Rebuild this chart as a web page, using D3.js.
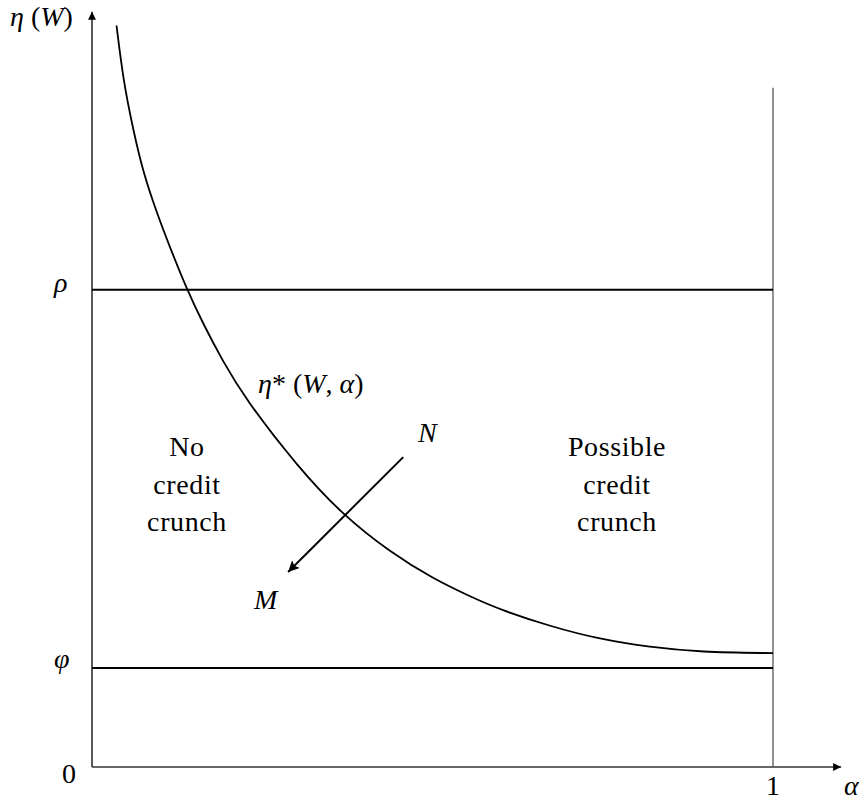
<!DOCTYPE html>
<html>
<head>
<meta charset="utf-8">
<script src="https://cdn.jsdelivr.net/npm/d3@7"></script>
</head>
<body style="margin:0">
<svg id="chart" width="864" height="802"></svg>
<script>
// curve eta*(W, alpha)
var alphaVals = [0.036, 0.046, 0.061, 0.075, 0.095, 0.115, 0.139, 0.163, 0.192, 0.225,
                 0.301, 0.369, 0.438, 0.501, 0.559, 0.599, 0.673, 0.746, 0.819, 0.893, 1.0];
var etaVals   = [7.49, 6.93, 6.42, 6.01, 5.60, 5.24, 4.83, 4.48, 4.10, 3.72,
                 3.04, 2.54, 2.17, 1.90, 1.71, 1.59, 1.42, 1.29, 1.21, 1.16, 1.15];

var rho = 4.82;
var phi = 1.0;
var etaTop = 7.63;      // end of the vertical axis
var alphaEnd = 1.1;     // end of the horizontal axis
var boundTop = 6.86;    // top of the alpha = 1 line

// shift N -> M
var shiftFrom = {alpha: 0.457, eta: 3.13};
var shiftTo = {alpha: 0.288, eta: 1.97};

var leftLines = ["No", "credit", "crunch"];
var rightLines = ["Possible", "credit", "crunch"];
var lineY = [456, 494, 531];

var svg = d3.select("#chart");

var x = d3.scaleLinear().domain([0, 1]).range([92, 773]);
var y = d3.scaleLinear().domain([0, phi]).range([767, 668]);

var labels = [
    {x: 10, y: 26, parts: [["\u03B7", 1], [" (", 0], ["W", 1], [")", 0]]},
    {x: 54, y: 292, parts: [["\u03C1", 1]]},
    {x: 54, y: 668, parts: [["\u03C6", 1]]},
    {x: 62, y: 783, parts: [["0", 0]]},
    {x: x(1) - 7, y: 795, parts: [["1", 0]]},
    {x: 844, y: 795, parts: [["\u03B1", 1]]},
    {x: 258, y: 393, parts: [["\u03B7", 1], ["*", 0], [" (", 0], ["W", 1], [", ", 0], ["\u03B1", 1], [")", 0]]},
    {x: 418, y: 442, parts: [["N", 1]]},
    {x: 254, y: 609, parts: [["M", 1]]}
];

// math labels
var txt = svg.selectAll("text.lab").data(labels).enter().append("text")
    .attr("class", "lab")
    .attr("x", function (d) { return d.x; })
    .attr("y", function (d) { return d.y; })
    .attr("font-size", 28)
    .attr("font-family", "Liberation Serif")
    .style("font-family", "'Liberation Serif', serif");
txt.selectAll("tspan").data(function (d) { return d.parts; }).enter().append("tspan")
    .attr("font-style", function (p) { return p[1] ? "italic" : "normal"; })
    .text(function (p) { return p[0]; });

// region names
[[leftLines, 187], [rightLines, 617]].forEach(function (blk) {
    svg.append("g").selectAll("text").data(blk[0]).enter().append("text")
        .attr("x", blk[1])
        .attr("y", function (d, i) { return lineY[i]; })
        .attr("text-anchor", "middle")
        .attr("font-size", 28)
        .attr("letter-spacing", 0.6)
        .attr("font-family", "Liberation Serif")
        .style("font-family", "'Liberation Serif', serif")
        .text(function (d) { return d; });
});

var defs = svg.append("defs");
defs.append("marker")
    .attr("id", "tip")
    .attr("viewBox", "0 0 10 10")
    .attr("refX", 10).attr("refY", 5)
    .attr("markerWidth", 12).attr("markerHeight", 8)
    .attr("markerUnits", "userSpaceOnUse")
    .attr("orient", "auto")
    .append("path").attr("d", "M0,0 L10,5 L0,10 z").attr("fill", "#000");
defs.append("marker")
    .attr("id", "tip2")
    .attr("viewBox", "0 0 10 10")
    .attr("refX", 10).attr("refY", 5)
    .attr("markerWidth", 16).attr("markerHeight", 11)
    .attr("markerUnits", "userSpaceOnUse")
    .attr("orient", "auto")
    .append("path").attr("d", "M0,0 L10,5 L0,10 L2,5 z").attr("fill", "#000");

// axes
svg.append("line")
    .attr("x1", x(0)).attr("y1", y(0))
    .attr("x2", x(0)).attr("y2", y(etaTop))
    .attr("stroke", "#000").attr("stroke-width", 1.3)
    .attr("marker-end", "url(#tip)");
svg.append("line")
    .attr("x1", x(0)).attr("y1", y(0))
    .attr("x2", x(alphaEnd)).attr("y2", y(0))
    .attr("stroke", "#333").attr("stroke-width", 1.3)
    .attr("marker-end", "url(#tip)");

// alpha = 1 boundary
svg.append("line")
    .attr("x1", x(1)).attr("y1", y(0))
    .attr("x2", x(1)).attr("y2", y(boundTop))
    .attr("stroke", "#555").attr("stroke-width", 1.3);

// rho and phi levels
[rho, phi].forEach(function (v) {
    svg.append("line")
        .attr("x1", x(0)).attr("y1", y(v))
        .attr("x2", x(1)).attr("y2", y(v))
        .attr("stroke", "#000").attr("stroke-width", 2);
});

// the curve
var pts = alphaVals.map(function (a, i) { return [a, etaVals[i]]; });
var line = d3.line()
    .x(function (d) { return x(d[0]); })
    .y(function (d) { return y(d[1]); })
    .curve(d3.curveBasis);
svg.append("path")
    .datum(pts)
    .attr("d", line)
    .attr("fill", "none")
    .attr("stroke", "#000")
    .attr("stroke-width", 1.8);

// shift arrow
svg.append("line")
    .attr("x1", x(shiftFrom.alpha)).attr("y1", y(shiftFrom.eta))
    .attr("x2", x(shiftTo.alpha)).attr("y2", y(shiftTo.eta))
    .attr("stroke", "#000").attr("stroke-width", 2)
    .attr("marker-end", "url(#tip2)");
</script>
</body>
</html>
